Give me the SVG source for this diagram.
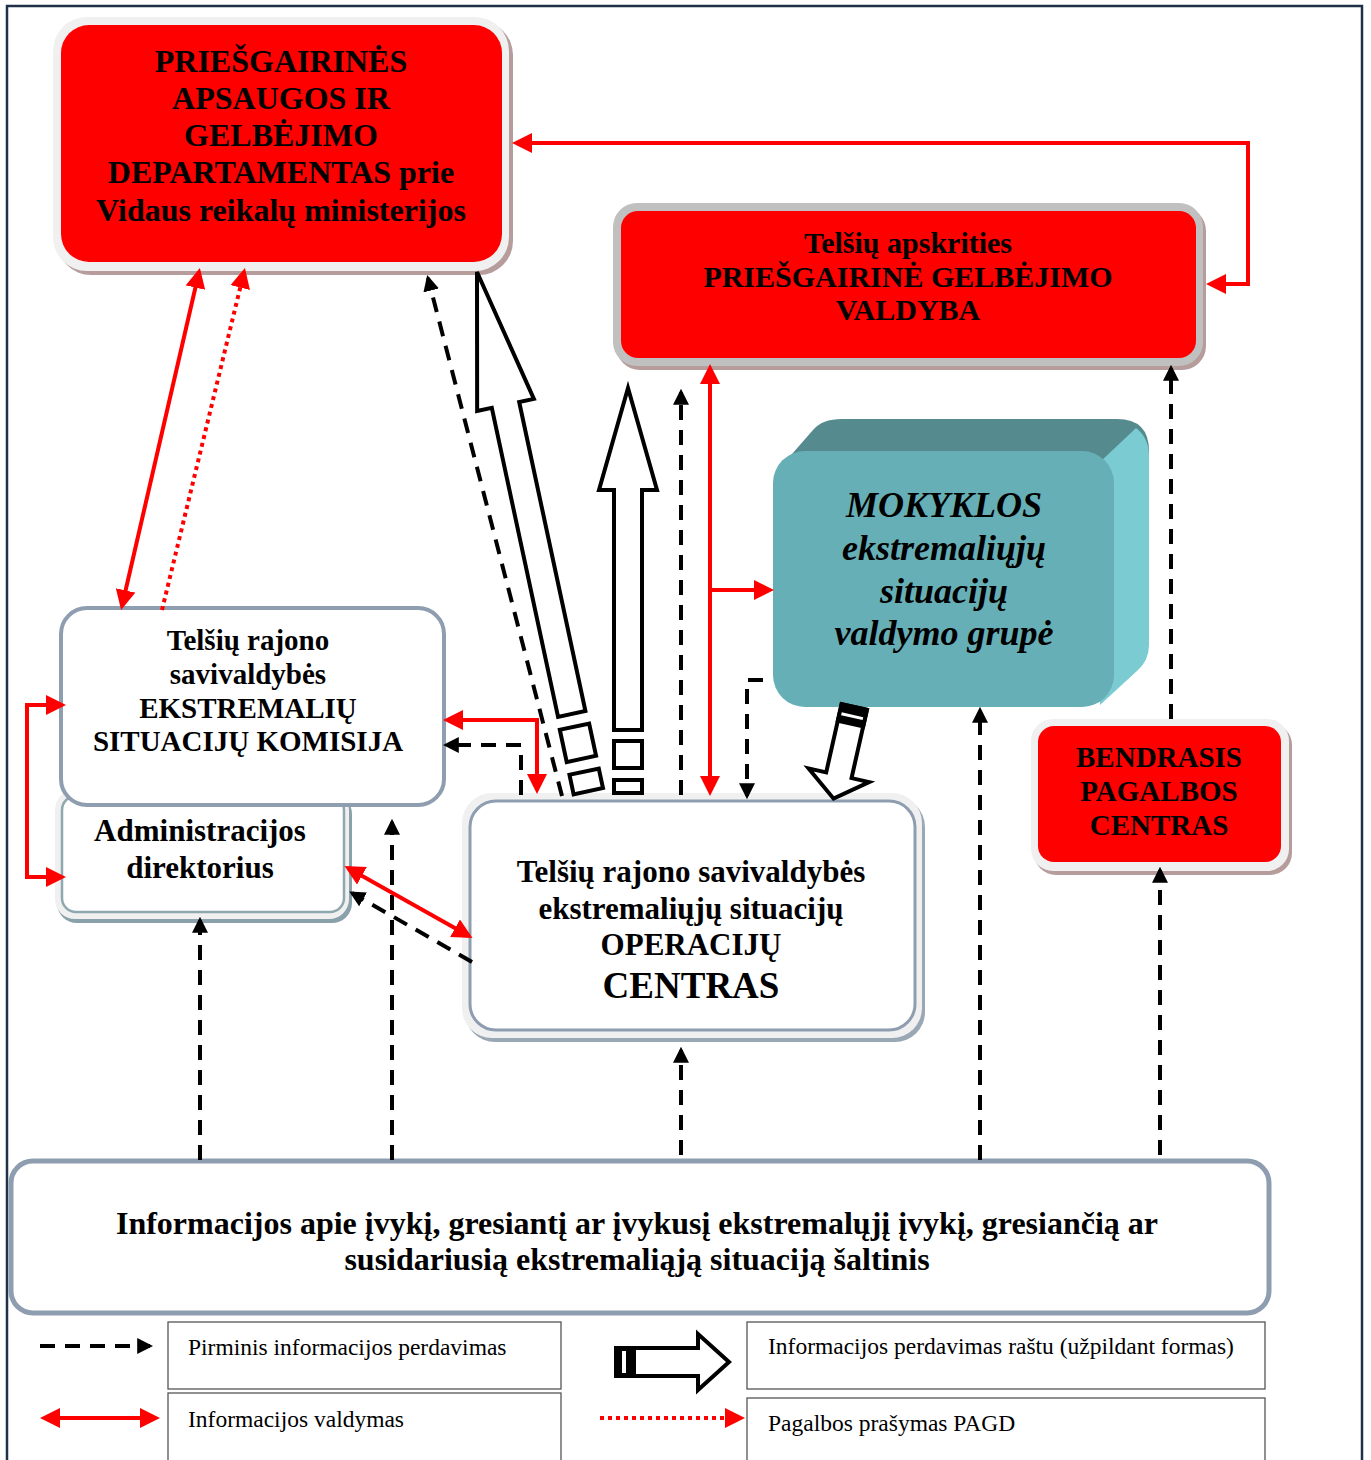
<svg xmlns="http://www.w3.org/2000/svg" width="1371" height="1460" viewBox="0 0 1371 1460">
<style>
.t{font-family:"Liberation Serif","Times New Roman",serif;font-weight:bold;fill:#000;text-anchor:middle}
.ti{font-style:italic}
.lg{font-family:"Liberation Serif","Times New Roman",serif;font-size:23.5px;fill:#000}
.dk{fill:none;stroke:#000;stroke-width:4;stroke-dasharray:15 10}
.rd{fill:none;stroke:#f00;stroke-width:4}
.rdot{fill:none;stroke:#f00;stroke-width:4;stroke-dasharray:4 4}
.blk{fill:#fff;stroke:#000;stroke-width:4;stroke-linejoin:miter}
</style>
<defs>
<marker id="ak" viewBox="0 0 10 10" refX="8" refY="5" markerWidth="4" markerHeight="4" orient="auto-start-reverse"><path d="M0,0 L10,5 L0,10 Z" fill="#000"/></marker>
<marker id="ar" viewBox="0 0 10 10" refX="8" refY="5" markerWidth="5" markerHeight="5" orient="auto-start-reverse"><path d="M0,0 L10,5 L0,10 Z" fill="#f00"/></marker>
</defs>
<rect width="1371" height="1460" fill="#fff"/>
<rect x="7" y="6" width="1355" height="1480" fill="none" stroke="#1f3048" stroke-width="2.5"/>

<g id="pagd">
<rect x="57" y="21" width="456" height="254" rx="34" fill="#b79c9c"/>
<rect x="53" y="17" width="456" height="254" rx="34" fill="#f0f0f0"/>
<rect x="61" y="25" width="441" height="237" rx="28" fill="#f00"/>
<text class="t" font-size="32" x="281" y="72">PRIEŠGAIRINĖS</text>
<text class="t" font-size="32" x="281" y="109">APSAUGOS IR</text>
<text class="t" font-size="32" x="281" y="146">GELBĖJIMO</text>
<text class="t" font-size="32" x="281" y="183">DEPARTAMENTAS prie</text>
<text class="t" font-size="32" x="281" y="221">Vidaus reikalų ministerijos</text>
</g>

<g id="pgv">
<rect x="616" y="207" width="590" height="163" rx="24" fill="#b79c9c"/>
<rect x="613" y="203" width="590" height="163" rx="24" fill="#c0c0c0"/>
<rect x="621" y="211" width="575" height="147" rx="17" fill="#f00"/>
<text class="t" font-size="30" x="908" y="253">Telšių apskrities</text>
<text class="t" font-size="30" x="908" y="287">PRIEŠGAIRINĖ GELBĖJIMO</text>
<text class="t" font-size="30" x="908" y="320">VALDYBA</text>
</g>

<g id="mokyklos">
<path d="M778,470 L813,430 Q822,419 842,419 L1117,419 Q1149,419 1149,451 L1149,460 L1114,492 L1114,470 Z" fill="#558a8e"/>
<path d="M1100,462 L1136,428 Q1149,438 1149,456 L1149,645 Q1149,660 1138,670 L1100,705 Z" fill="#7acbd2"/>
<rect x="773" y="451" width="341" height="256" rx="32" fill="#67afb6"/>
<text class="t ti" font-size="36" x="944" y="517">MOKYKLOS</text>
<text class="t ti" font-size="36" x="944" y="560">ekstremaliųjų</text>
<text class="t ti" font-size="36" x="944" y="603">situacijų</text>
<text class="t ti" font-size="36" x="944" y="645">valdymo grupė</text>
</g>

<g id="bpc">
<rect x="1034" y="723" width="258" height="152" rx="22" fill="#b79c9c"/>
<rect x="1031" y="719" width="258" height="152" rx="22" fill="#f0f0f0"/>
<rect x="1038" y="726" width="243" height="136" rx="16" fill="#f00"/>
<text class="t" font-size="29" x="1159" y="767">BENDRASIS</text>
<text class="t" font-size="29" x="1159" y="801">PAGALBOS</text>
<text class="t" font-size="29" x="1159" y="835">CENTRAS</text>
</g>

<g id="direktorius">
<rect x="57" y="794" width="295" height="129" rx="20" fill="#8aa0aa"/>
<rect x="55" y="790" width="294" height="129" rx="20" fill="#f0f0f0"/>
<rect x="62" y="796" width="282" height="116" rx="14" fill="#fff" stroke="#8fa8b0" stroke-width="2.5"/>
<text class="t" font-size="31" x="200" y="841">Administracijos</text>
<text class="t" font-size="31" x="200" y="878">direktorius</text>
</g>

<g id="komisija">
<rect x="61" y="608" width="383" height="197" rx="26" fill="#fff" stroke="#8e9db0" stroke-width="4"/>
<text class="t" font-size="29" x="248" y="650">Telšių rajono</text>
<text class="t" font-size="29" x="248" y="684">savivaldybės</text>
<text class="t" font-size="29" x="248" y="718">EKSTREMALIŲ</text>
<text class="t" font-size="29" x="248" y="751">SITUACIJŲ KOMISIJA</text>
</g>

<g id="oc">
<rect x="465" y="797" width="460" height="245" rx="30" fill="#9aa7b5"/>
<rect x="462" y="793" width="460" height="245" rx="30" fill="#f0f0f0"/>
<rect x="470" y="801" width="445" height="229" rx="26" fill="#fff" stroke="#8e9db0" stroke-width="3"/>
<text class="t" font-size="31" x="691" y="882">Telšių rajono savivaldybės</text>
<text class="t" font-size="31" x="691" y="919">ekstremaliųjų situacijų</text>
<text class="t" font-size="31" x="691" y="955">OPERACIJŲ</text>
<text class="t" font-size="37" x="691" y="998">CENTRAS</text>
</g>

<g id="saltinis">
<rect x="11" y="1161" width="1258" height="152" rx="22" fill="#fff" stroke="#8e9db0" stroke-width="5"/>
<text class="t" font-size="32" x="637" y="1234">Informacijos apie įvykį, gresiantį ar įvykusį ekstremalųjį įvykį, gresiančią ar</text>
<text class="t" font-size="32" x="637" y="1270">susidariusią ekstremaliąją situaciją šaltinis</text>
</g>

<g id="connectors">
<path class="rd" d="M516,143 H1248 V284 H1210" marker-start="url(#ar)" marker-end="url(#ar)"/>
<path class="rd" d="M199,272 L122,606" marker-start="url(#ar)" marker-end="url(#ar)"/>
<path class="rdot" d="M162,610 L244,272" marker-end="url(#ar)"/>
<path class="dk" d="M562,796 L428,278" marker-end="url(#ak)"/>
<path class="dk" d="M681,795 V392" marker-end="url(#ak)"/>
<path class="rd" d="M710,368 V792" marker-start="url(#ar)" marker-end="url(#ar)"/>
<path class="rd" d="M710,590 H770" marker-end="url(#ar)"/>
<path class="dk" d="M763,680 H747 V796" marker-end="url(#ak)"/>
<path class="dk" d="M1171,719 V368" marker-end="url(#ak)"/>
<path class="dk" d="M980,1160 V710" marker-end="url(#ak)"/>
<path class="dk" d="M1160,1155 V870" marker-end="url(#ak)"/>
<path class="dk" d="M681,1155 V1050" marker-end="url(#ak)"/>
<path class="dk" d="M392,1160 V822" marker-end="url(#ak)"/>
<path class="dk" d="M200,1160 V920" marker-end="url(#ak)"/>
<path class="rd" d="M348,868 L469,936" marker-start="url(#ar)" marker-end="url(#ar)"/>
<path class="dk" d="M472,962 L352,893" marker-end="url(#ak)"/>
<path class="rd" d="M447,720 H537 V790" marker-start="url(#ar)" marker-end="url(#ar)"/>
<path class="dk" d="M521,795 V745 H446" marker-end="url(#ak)"/>
<path class="rd" d="M62,705 H27 V877 H62" marker-start="url(#ar)" marker-end="url(#ar)"/>
<g transform="translate(477,272) rotate(-12.1)">
<polygon class="blk" points="0,0 29,136 14,136 14,452 -14,452 -14,136 -29,136"/>
<rect class="blk" x="-15" y="465" width="30" height="33"/>
<rect class="blk" x="-15" y="511" width="30" height="20"/>
</g>
<polygon class="blk" points="628,388 657,490 642,490 642,730 614,730 614,490 599,490"/>
<rect class="blk" x="614" y="741" width="28" height="27"/>
<rect class="blk" x="614" y="780" width="28" height="13"/>
<g transform="translate(854.7,705) rotate(12.7)">
<polygon class="blk" points="-13,2 13,2 13,72 31,72 0,96 -31,72 -13,72"/>
<rect x="-15" y="0" width="30" height="21" fill="#000"/>
<rect x="-11" y="10" width="22" height="3" fill="#fff"/>
</g>
</g>

<g id="legend">
<rect x="168" y="1322" width="393" height="67" fill="#fff" stroke="#555" stroke-width="1.3"/>
<rect x="168" y="1393" width="393" height="90" fill="#fff" stroke="#555" stroke-width="1.3"/>
<rect x="747" y="1322" width="518" height="67" fill="#fff" stroke="#555" stroke-width="1.3"/>
<rect x="747" y="1398" width="518" height="90" fill="#fff" stroke="#555" stroke-width="1.3"/>
<text class="lg" x="188" y="1355">Pirminis informacijos perdavimas</text>
<text class="lg" x="188" y="1427">Informacijos valdymas</text>
<text class="lg" x="768" y="1354">Informacijos perdavimas raštu (užpildant formas)</text>
<text class="lg" x="768" y="1431">Pagalbos prašymas PAGD</text>
<path class="dk" d="M40,1346 H150" marker-end="url(#ak)"/>
<path class="rd" d="M44,1418 H156" marker-start="url(#ar)" marker-end="url(#ar)"/>
<path class="rdot" d="M600,1418 H741" marker-end="url(#ar)"/>
<polygon class="blk" points="616,1348 698,1348 698,1334 729,1362 698,1390 698,1376 616,1376"/>
<rect x="614" y="1346" width="22" height="32" fill="#000"/>
<rect x="622" y="1351" width="4" height="22" fill="#fff"/>
</g>
</svg>
